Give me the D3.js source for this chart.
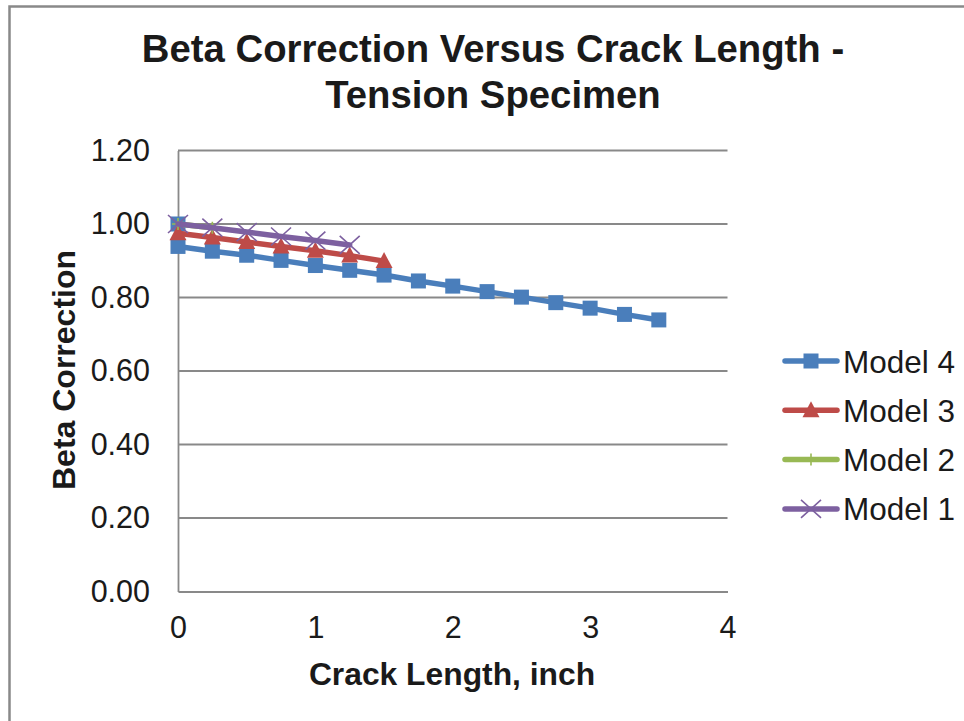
<!DOCTYPE html>
<html><head><meta charset="utf-8">
<script src="https://cdn.jsdelivr.net/npm/d3@7"></script>
<style>html,body{margin:0;padding:0;background:#fff;}svg{display:block;font-family:"Liberation Sans",Arial,sans-serif;}</style>
</head><body>
<svg id="chart" width="964" height="721"></svg>
<script>
const titleLines = ["Beta Correction Versus Crack Length -", "Tension Specimen"];
const xTitle = "Crack Length, inch";
const yTitle = "Beta Correction";
const xTicks = [0, 1, 2, 3, 4];
const yTicks = [0, 0.2, 0.4, 0.6, 0.8, 1.0, 1.2];

const model4X = [0, 0, 0.25, 0.5, 0.75, 1.0, 1.25, 1.5, 1.75, 2.0, 2.25, 2.5, 2.75, 3.0, 3.25, 3.5];
const model4Y = [1.0, 0.939, 0.926, 0.915, 0.901, 0.887, 0.874, 0.861, 0.845, 0.831, 0.816, 0.801, 0.786, 0.771, 0.754, 0.739];
const model3X = [0, 0.25, 0.5, 0.75, 1.0, 1.25, 1.5];
const model3Y = [0.975, 0.963, 0.951, 0.939, 0.927, 0.914, 0.899];
const model2X = [0, 0.25];
const model2Y = [1.0, 0.99];
const model1X = [0, 0.25, 0.5, 0.75, 1.0, 1.25];
const model1Y = [1.0, 0.99, 0.978, 0.966, 0.955, 0.943];

const seriesNames = ["Model 4", "Model 3", "Model 2", "Model 1"];
const colors = ["#4A7EBB", "#BE4B48", "#98B954", "#7D60A0"];
const markers = ["square", "triangle", "plus", "cross"];
const seriesX = [model4X, model3X, model2X, model1X];
const seriesY = [model4Y, model3Y, model2Y, model1Y];

const svg = d3.select("#chart");
const x = d3.scaleLinear().domain([0, 4]).range([178, 727.5]);
const y = d3.scaleLinear().domain([0, 1.2]).range([591.5, 150.5]);
const gray = "#898989";

// outer frame
svg.append("path").attr("d", "M9.5,721 L9.5,6.5 L964,6.5")
  .attr("fill", "none").attr("stroke", gray).attr("stroke-width", 2.5);

// title
svg.append("text").attr("x", 493).attr("y", 62).attr("text-anchor", "middle")
  .attr("font-size", 38.3).attr("font-weight", "bold").attr("fill", "#1a1a1a")
  .selectAll("tspan").data(titleLines).join("tspan")
  .attr("x", 493).attr("dy", (d, i) => i === 0 ? 0 : 46).text(d => d);

// gridlines
svg.append("g").selectAll("line").data(yTicks.filter(d => d > 0)).join("line")
  .attr("x1", x(0)).attr("x2", x(4)).attr("y1", d => y(d)).attr("y2", d => y(d))
  .attr("stroke", gray).attr("stroke-width", 1.8);

// axes
const yAxis = svg.append("g").attr("transform", `translate(${x(0)},0)`)
  .call(d3.axisLeft(y).tickValues(yTicks).tickFormat(d3.format(".2f")).tickSize(0).tickPadding(28));
const xAxis = svg.append("g").attr("transform", `translate(0,${y(0)})`)
  .call(d3.axisBottom(x).tickValues(xTicks).tickFormat(d3.format("d")).tickSize(0).tickPadding(25));
[xAxis, yAxis].forEach(g => {
  g.select(".domain").attr("stroke", gray).attr("stroke-width", 1.8);
  g.selectAll("text").attr("font-size", 30.5).attr("fill", "#1a1a1a")
    .attr("font-family", "'Liberation Sans', Arial, sans-serif");
});

// axis titles
svg.append("text").attr("x", 452).attr("y", 685).attr("text-anchor", "middle")
  .attr("font-size", 31.8).attr("font-weight", "bold").attr("fill", "#1a1a1a").text(xTitle);
svg.append("text").attr("transform", "translate(75,370) rotate(-90)").attr("text-anchor", "middle")
  .attr("font-size", 32).attr("font-weight", "bold").attr("fill", "#1a1a1a").text(yTitle);

function drawMarker(g, type, color) {
  if (type === "square") {
    g.append("rect").attr("x", -7.5).attr("y", -7.5).attr("width", 15).attr("height", 15).attr("fill", color);
  } else if (type === "triangle") {
    g.append("path").attr("d", "M0,-9 L8.5,7 L-8.5,7 Z").attr("fill", color);
  } else if (type === "plus") {
    g.append("path").attr("d", "M-6,0 L6,0 M0,-6 L0,6").attr("stroke", color).attr("stroke-width", 1.6);
  } else if (type === "cross") {
    g.append("path").attr("d", "M-10,-9 L10,9 M-10,9 L10,-9").attr("stroke", color).attr("stroke-width", 1.6);
  }
}

const line = d3.line().x(d => x(d[0])).y(d => y(d[1]));
seriesNames.forEach((name, i) => {
  const pts = seriesX[i].map((xv, j) => [xv, seriesY[i][j]]);
  const g = svg.append("g");
  g.append("path").attr("d", line(pts)).attr("fill", "none").attr("stroke", colors[i])
    .attr("stroke-width", 5.5).attr("stroke-linejoin", "round").attr("stroke-linecap", "round");
  pts.forEach(p => {
    const mg = g.append("g").attr("transform", `translate(${x(p[0])},${y(p[1])})`);
    drawMarker(mg, markers[i], colors[i]);
  });
});

// legend
const legend = svg.append("g");
seriesNames.forEach((name, i) => {
  const ly = 361 + i * 49.3;
  legend.append("line").attr("x1", 785).attr("x2", 837).attr("y1", ly).attr("y2", ly)
    .attr("stroke", colors[i]).attr("stroke-width", 5.5).attr("stroke-linecap", "round");
  const mg = legend.append("g").attr("transform", `translate(811,${ly})`);
  drawMarker(mg, markers[i], colors[i]);
  legend.append("text").attr("x", 843).attr("y", ly + 11.5).attr("font-size", 31.5)
    .attr("fill", "#1a1a1a").text(name);
});
</script>
</body></html>
